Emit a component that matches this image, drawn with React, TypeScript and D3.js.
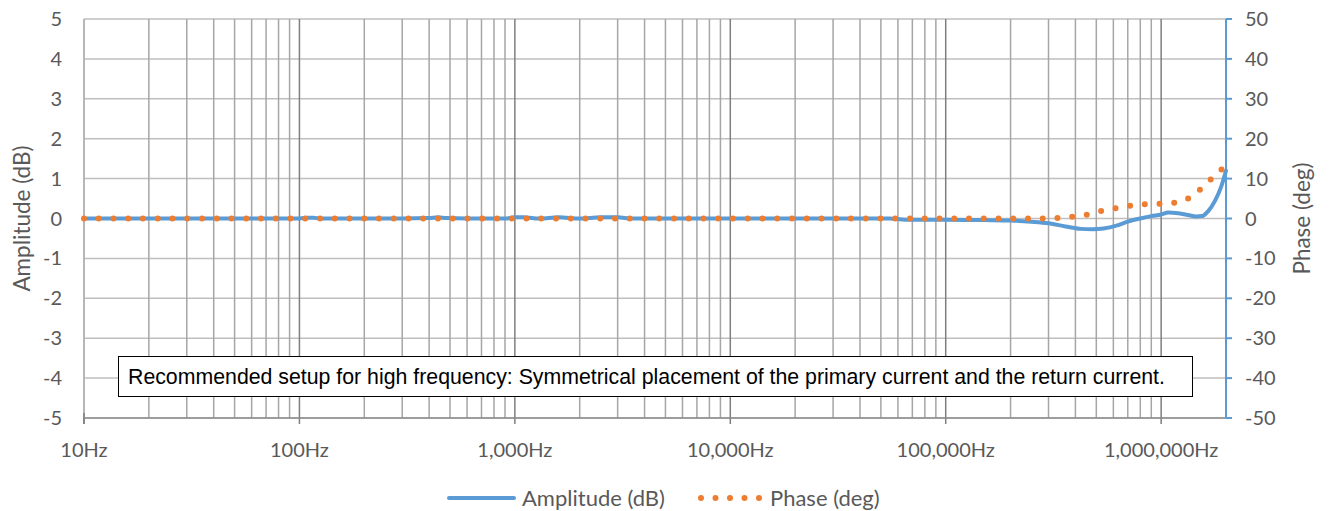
import React from "react";
import * as d3 from "d3";

const ampFreq = [10, 50, 100, 110, 116, 125, 150, 300, 400, 440, 480, 600, 900, 1000, 1100, 1300, 1600, 2000, 2500, 3000, 3500, 4000, 5000, 10000, 30000, 55000, 65000, 100000, 150000, 200000, 250000, 300000, 360000, 420000, 480000, 540000, 620000, 700000, 800000, 900000, 1000000, 1080000, 1200000, 1350000, 1450000, 1550000, 1650000, 1780000, 1900000, 2000000];
const ampDb = [0, 0, 0, 0.02, 0.02, 0.0, 0, 0, 0.01, 0.03, 0.01, 0, 0, 0.03, 0.03, 0.0, 0.03, 0.0, 0.03, 0.03, 0.0, 0, 0, 0, 0, 0, -0.03, -0.03, -0.04, -0.05, -0.08, -0.12, -0.2, -0.26, -0.27, -0.25, -0.18, -0.08, 0.0, 0.06, 0.1, 0.15, 0.13, 0.08, 0.05, 0.06, 0.18, 0.45, 0.8, 1.2];

const phaseFreq = [10, 1000, 10000, 100000, 250000, 300000, 352000, 414000, 481000, 558000, 656000, 761000, 893000, 1050000, 1220000, 1420000, 1590000, 1770000, 2000000];
const phaseDeg = [0, 0, 0, 0, 0, 0, 0.3, 0.6, 1.3, 2.2, 2.8, 3.4, 3.6, 3.8, 4.1, 6, 8.3, 10.7, 13.3];

const ampTicks = [5, 4, 3, 2, 1, 0, -1, -2, -3, -4, -5];
const phaseTicks = [50, 40, 30, 20, 10, 0, -10, -20, -30, -40, -50];
const decadeTicks = [10, 100, 1000, 10000, 100000, 1000000];
const decadeLabels = ["10Hz", "100Hz", "1,000Hz", "10,000Hz", "100,000Hz", "1,000,000Hz"];

const noteText = "Recommended setup for high frequency: Symmetrical placement of the primary current and the return current.";

const BLUE = "#5B9BD5";
const ORANGE = "#ED7D31";
const LABEL = "#595959";
const FONT = "Lato, 'Open Sans', sans-serif";

export default function App() {
  const W = 1332, H = 511;
  const left = 84, right = 1226, top = 19, bottom = 418;
  const x = d3.scaleLog().domain([10, 2000000]).range([left, right]);
  const yA = d3.scaleLinear().domain([-5, 5]).range([bottom, top]);
  const yP = d3.scaleLinear().domain([-50, 50]).range([bottom, top]);

  const minorLines: number[] = [];
  const majorLines: number[] = [];
  for (let d = 10; d <= 1000000; d *= 10) {
    majorLines.push(d);
    for (let k = 2; k <= 9; k++) {
      const f = d * k;
      if (f < 2000000) minorLines.push(f);
    }
  }

  const ampLine = d3.line<number>().x((_, i) => x(ampFreq[i])).y((v) => yA(v)).curve(d3.curveMonotoneX);
  const phLine = d3.line<number>().x((_, i) => x(phaseFreq[i])).y((v) => yP(v)).curve(d3.curveMonotoneX);

  return (
    <svg width={W} height={H} style={{ position: "absolute", left: 0, top: 0, background: "#fff" }}>
      {ampTicks.map((t) => (
        <line key={"h" + t} x1={left} x2={right} y1={yA(t)} y2={yA(t)} stroke="#BFBFBF" strokeWidth={1.5} />
      ))}
      {minorLines.map((f) => (
        <line key={"m" + f} x1={x(f)} x2={x(f)} y1={top} y2={bottom} stroke="#A6A6A6" strokeWidth={1.5} />
      ))}
      {majorLines.map((f) => (
        <line key={"M" + f} x1={x(f)} x2={x(f)} y1={top} y2={bottom + 6} stroke="#7F7F7F" strokeWidth={1.5} />
      ))}
      <line x1={left} x2={left} y1={top} y2={bottom} stroke="#BFBFBF" strokeWidth={1.5} />
      <line x1={left} x2={left} y1={bottom - 5} y2={bottom + 6} stroke="#7F7F7F" strokeWidth={1.5} />
      <line x1={left} x2={right} y1={bottom} y2={bottom} stroke="#8C8C8C" strokeWidth={1.5} />
      <line x1={right} x2={right} y1={top} y2={bottom} stroke={BLUE} strokeWidth={2} />
      {phaseTicks.map((t) => (
        <line key={"pt" + t} x1={right} x2={right + 6} y1={yP(t)} y2={yP(t)} stroke={BLUE} strokeWidth={2} />
      ))}
      <path d={ampLine(ampDb) || ""} fill="none" stroke={BLUE} strokeWidth={4} strokeLinejoin="round" strokeLinecap="round" />
      <path d={phLine(phaseDeg) || ""} fill="none" stroke={ORANGE} strokeWidth={6} strokeDasharray="0 14.75" strokeLinecap="round" />
      {ampTicks.map((t) => (
        <text key={"la" + t} x={62} y={yA(t)} dy="0.35em" textAnchor="end" fontFamily={FONT} fontSize={20} fill={LABEL}>
          {t}
        </text>
      ))}
      {phaseTicks.map((t) => (
        <text key={"lp" + t} x={1245} y={yP(t)} dy="0.35em" textAnchor="start" fontFamily={FONT} fontSize={20} fill={LABEL}>
          {t}
        </text>
      ))}
      {decadeTicks.map((f, i) => (
        <text key={"xl" + f} x={x(f)} y={450} dy="0.35em" textAnchor="middle" fontFamily={FONT} fontSize={20} fill={LABEL}>
          {decadeLabels[i]}
        </text>
      ))}
      <text transform={`translate(22,${(top + bottom) / 2}) rotate(-90)`} textAnchor="middle" dy="0.35em" fontFamily={FONT} fontSize={22.5} fill={LABEL}>
        Amplitude (dB)
      </text>
      <text transform={`translate(1302,${(top + bottom) / 2}) rotate(-90)`} textAnchor="middle" dy="0.35em" fontFamily={FONT} fontSize={22.5} fill={LABEL}>
        Phase (deg)
      </text>
      <rect x={118.5} y={356.5} width={1074} height={40} fill="#fff" stroke="#000" strokeWidth={1} />
      <text x={128} y={377} dy="0.35em" fontFamily="'Liberation Sans', Arial, sans-serif" fontSize={21.3} fill="#000">
        {noteText}
      </text>
      <line x1={449} x2={514} y1={498} y2={498} stroke={BLUE} strokeWidth={4} strokeLinecap="round" />
      <text x={522} y={498} dy="0.35em" fontFamily={FONT} fontSize={22} fill={LABEL}>Amplitude (dB)</text>
      <line x1={701} x2={760} y1={498} y2={498} stroke={ORANGE} strokeWidth={6} strokeDasharray="0 14.5" strokeLinecap="round" />
      <text x={770} y={498} dy="0.35em" fontFamily={FONT} fontSize={22} fill={LABEL}>Phase (deg)</text>
    </svg>
  );
}
